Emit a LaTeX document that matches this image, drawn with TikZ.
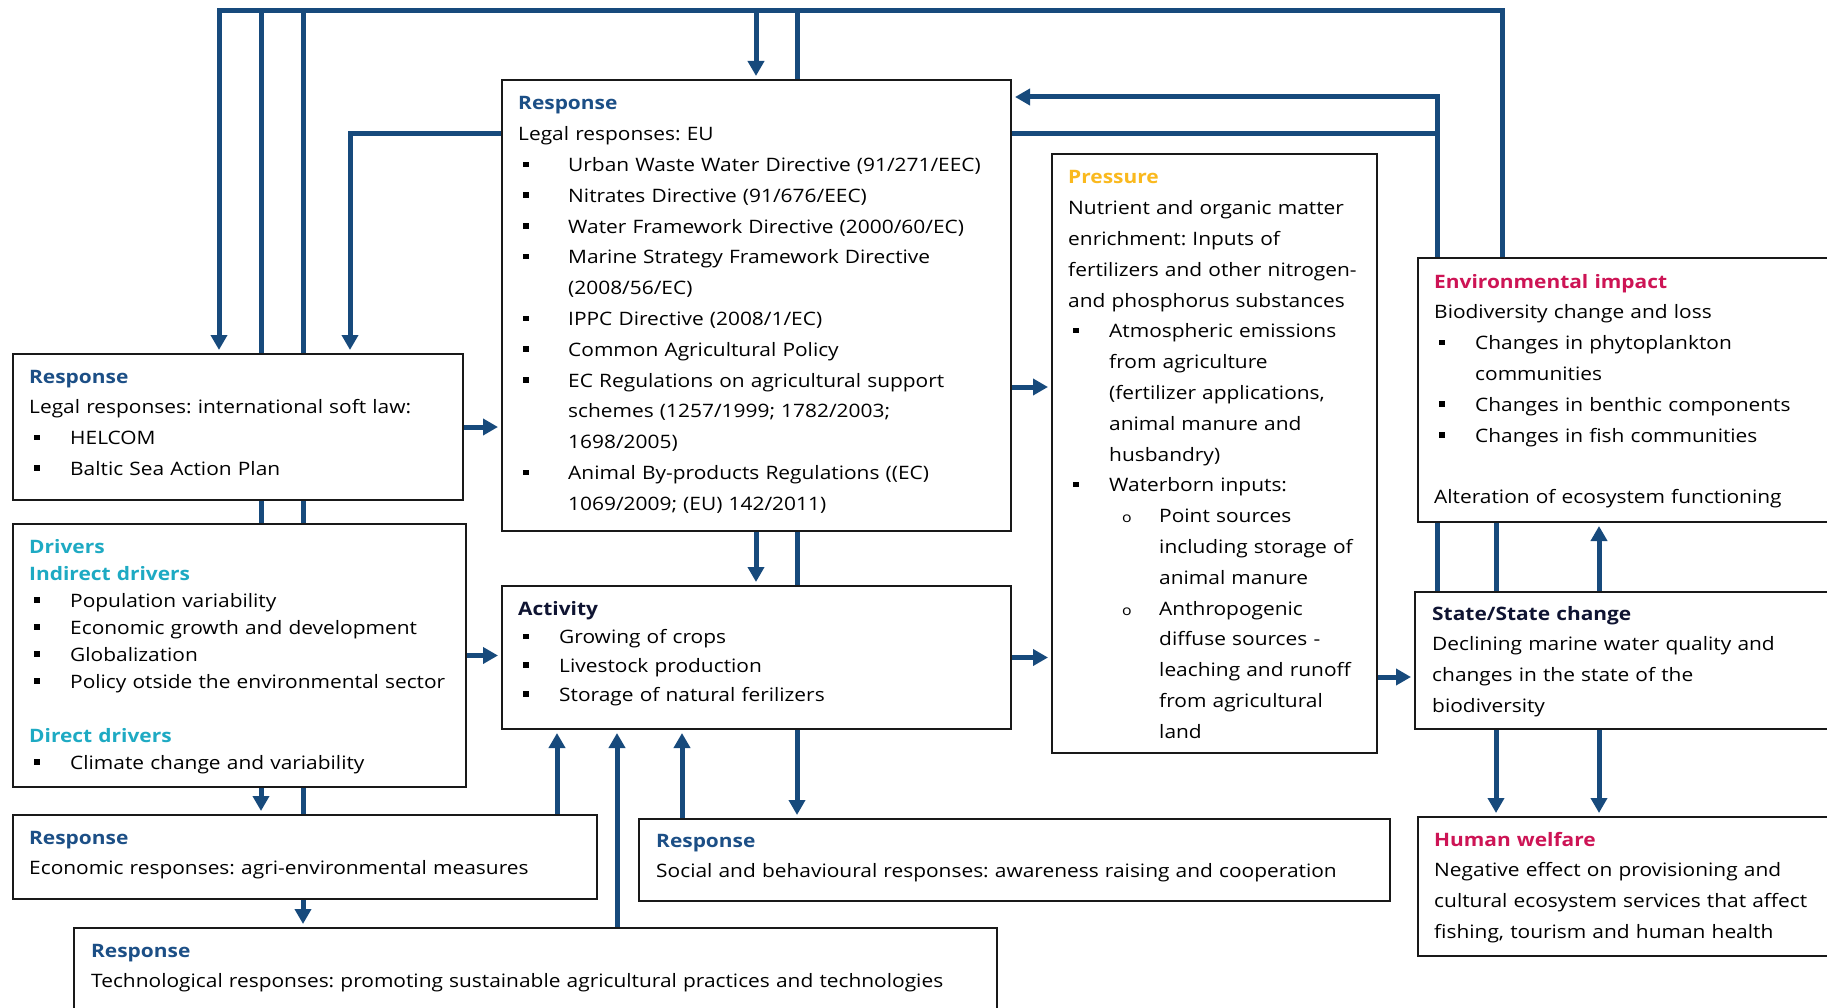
\documentclass[tikz,border=0pt]{standalone}
\usepackage{fontspec}
\setmainfont{Open Sans}[FakeStretch=1.13]
\usetikzlibrary{positioning}
\usetikzlibrary{arrows.meta}

\definecolor{flowblue}{HTML}{174A7C}
\definecolor{respblue}{HTML}{1C4F86}
\definecolor{drivcyan}{HTML}{1EAAC3}
\definecolor{presyellow}{HTML}{FAB91E}
\definecolor{impactred}{HTML}{CD1455}
\definecolor{darknavy}{HTML}{0F1432}

\frenchspacing
\newcommand{\sqbullet}{\raisebox{4.5pt}{\rule{5.5pt}{5.5pt}}}
\newcommand{\itm}[2][36pt]{\hspace*{5pt}\makebox[#1][l]{\sqbullet}#2}
\newcommand{\subitm}[1]{\hspace*{54pt}\makebox[37pt][l]{\fontsize{14}{14}\selectfont o}#1}
\newcommand{\heading}[2]{\textcolor{#1}{\textbf{#2}}}

\tikzset{
        % Boxes
        box_panel/.style={draw=black!90, line width=2pt, fill=white, anchor=north west, inner sep=0pt},
        % Texts in the boxes
        box_text/.style={anchor=base west, align=left, inner sep=0pt, text width=900pt, font=\fontsize{18.5}{30.8}\selectfont},
        % Connectors
        flow_line/.style={draw=flowblue, line width=5pt},
        flow_arrow/.style={flow_line, -{Triangle[length=15pt,width=16pt]}, shorten >=3pt}
}

\begin{document}
\begin{tikzpicture}[x=1pt, y=-1pt]
    \useasboundingbox (0,0) rectangle (1827,1008);

    % boxes
    \node[box_panel, minimum width=509pt, minimum height=451pt] (resp_eu) at (501,79) {};
    \node[box_panel, minimum width=450pt, minimum height=146pt] (resp_soft) at (12,353) {};
    \node[box_panel, minimum width=453pt, minimum height=263pt] (drivers) at (12,523) {};
    \node[box_panel, minimum width=509pt, minimum height=143pt] (activity) at (501,585) {};
    \node[box_panel, minimum width=325pt, minimum height=599pt] (pressure) at (1051,153) {};
    \node[box_panel, minimum width=430pt, minimum height=264pt] (impact) at (1417,257) {};
    \node[box_panel, minimum width=430pt, minimum height=137pt] (state) at (1414,591) {};
    \node[box_panel, minimum width=430pt, minimum height=139pt] (welfare) at (1417,816) {};
    \node[box_panel, minimum width=584pt, minimum height=84pt] (resp_econ) at (12,814) {};
    \node[box_panel, minimum width=751pt, minimum height=82pt] (resp_social) at (638,818) {};
    \node[box_panel, minimum width=923pt, minimum height=100pt] (resp_tech) at (73,927) {};

    % texts
    \node[box_text] (resp_eu_text) at (518,110) {\heading{respblue}{Response}\\
        Legal responses: EU\\
        \itm[45pt]{Urban Waste Water Directive (91/271/EEC)}\\
        \itm[45pt]{Nitrates Directive (91/676/EEC)}\\
        \itm[45pt]{Water Framework Directive (2000/60/EC)}\\
        \itm[45pt]{Marine Strategy Framework Directive}\\
        \hspace*{50pt}(2008/56/EC)\\
        \itm[45pt]{IPPC Directive (2008/1/EC)}\\
        \itm[45pt]{Common Agricultural Policy}\\
        \itm[45pt]{EC Regulations on agricultural support}\\
        \hspace*{50pt}schemes (1257/1999; 1782/2003;\\
        \hspace*{50pt}1698/2005)\\
        \itm[45pt]{Animal By-products Regulations ((EC)}\\
        \hspace*{50pt}1069/2009; (EU) 142/2011)};
    \node[box_text] (resp_soft_text) at (29,383) {\heading{respblue}{Response}\\
        Legal responses: international soft law:\\
        \itm{HELCOM}\\
        \itm{Baltic Sea Action Plan}};
    \node[box_text, font=\fontsize{18.5}{27}\selectfont] (drivers_text) at (29,553) {\heading{drivcyan}{Drivers}\\
        \heading{drivcyan}{Indirect drivers}\\
        \itm{Population variability}\\
        \itm{Economic growth and development}\\
        \itm{Globalization}\\
        \itm{Policy otside the environmental sector}\\[27pt]
        \heading{drivcyan}{Direct drivers}\\
        \itm{Climate change and variability}};
    \node[box_text, font=\fontsize{18.5}{28.7}\selectfont] (activity_text) at (518,615) {\heading{darknavy}{Activity}\\
        \itm{Growing of crops}\\
        \itm{Livestock production}\\
        \itm{Storage of natural ferilizers}};
    \node[box_text] (pressure_text) at (1068,184) {\heading{presyellow}{Pressure}\\
        Nutrient and organic matter\\
        enrichment: Inputs of\\
        fertilizers and other nitrogen-\\
        and phosphorus substances\\
        \itm{Atmospheric emissions}\\
        \hspace*{41pt}from agriculture\\
        \hspace*{41pt}(fertilizer applications,\\
        \hspace*{41pt}animal manure and\\
        \hspace*{41pt}husbandry)\\
        \itm{Waterborn inputs:}\\
        \subitm{Point sources}\\
        \hspace*{91pt}including storage of\\
        \hspace*{91pt}animal manure\\
        \subitm{Anthropogenic}\\
        \hspace*{91pt}diffuse sources -\\
        \hspace*{91pt}leaching and runoff\\
        \hspace*{91pt}from agricultural\\
        \hspace*{91pt}land};
    \node[box_text] (impact_text) at (1434,288) {\heading{impactred}{Environmental impact}\\
        Biodiversity change and loss\\
        \itm{Changes in phytoplankton}\\
        \hspace*{41pt}communities\\
        \itm{Changes in benthic components}\\
        \itm{Changes in fish communities}\\[30.8pt]
        Alteration of ecosystem functioning};
    \node[box_text] (state_text) at (1432,620) {\heading{darknavy}{State/State change}\\
        Declining marine water quality and\\
        changes in the state of the\\
        biodiversity};
    \node[box_text] (welfare_text) at (1434,846) {\heading{impactred}{Human welfare}\\
        Negative effect on provisioning and\\
        cultural ecosystem services that affect\\
        fishing, tourism and human health};
    \node[box_text] (resp_econ_text) at (29,844) {\heading{respblue}{Response}\\
        Economic responses: agri-environmental measures};
    \node[box_text] (resp_social_text) at (656,847) {\heading{respblue}{Response}\\
        Social and behavioural responses: awareness raising and cooperation};
    \node[box_text] (resp_tech_text) at (91,957) {\heading{respblue}{Response}\\
        Technological responses: promoting sustainable agricultural practices and technologies};

    % connector columns and levels
    \coordinate (top_left) at (219,11);
    \coordinate (top_right) at (1502,11);
    \coordinate (col_a) at (261,11);
    \coordinate (col_b) at (303,11);
    \coordinate (col_c) at (756,11);
    \coordinate (col_d) at (797,11);
    \coordinate (law_turn) at (350,134);
    \coordinate (fb_in) at (1437,97);
    \coordinate (fb_out) at (1437,134);
    \coordinate (lvl_press) at (1030,387);
    \coordinate (lvl_state) at (1395,677);
    \coordinate (col_f) at (1496,560);
    \coordinate (col_g) at (1599,560);
    \coordinate (col_h) at (557,780);
    \coordinate (col_i) at (617,780);
    \coordinate (col_j) at (682,780);

    % feedback loops
    \draw[flow_arrow] (impact.north -| top_right) -- (top_right) -- (top_left) -- (top_left |- resp_soft.north);
    \draw[flow_line] (col_a) -- (col_a |- resp_soft.north);
    \draw[flow_line] (col_b) -- (col_b |- resp_soft.north);
    \draw[flow_line] (resp_soft.south -| col_a) -- (drivers.north -| col_a);
    \draw[flow_line] (resp_soft.south -| col_b) -- (drivers.north -| col_b);
    \draw[flow_arrow] (drivers.south -| col_a) -- (resp_econ.north -| col_a);
    \draw[flow_line] (drivers.south -| col_b) -- (resp_econ.north -| col_b);
    \draw[flow_arrow] (resp_econ.south -| col_b) -- (resp_tech.north -| col_b);
    \draw[flow_arrow] (col_c) -- (resp_eu.north -| col_c);
    \draw[flow_line] (col_d) -- (resp_eu.north -| col_d);
    \draw[flow_arrow] (resp_eu.west |- law_turn) -- (law_turn) -- (law_turn |- resp_soft.north);
    \draw[flow_line] (resp_eu.east |- fb_out) -- (fb_out);
    \draw[flow_arrow] (impact.north -| fb_in) -- (fb_in) -- (resp_eu.east |- fb_in);

    % main chain
    \draw[flow_arrow] (resp_soft.east) -- (resp_eu.west |- resp_soft.east);
    \draw[flow_arrow] (resp_eu.east |- lvl_press) -- (pressure.west |- lvl_press);
    \draw[flow_arrow] (resp_eu.south -| col_c) -- (activity.north -| col_c);
    \draw[flow_line] (resp_eu.south -| col_d) -- (activity.north -| col_d);
    \draw[flow_arrow] (drivers.east) -- (activity.west |- drivers.east);
    \draw[flow_arrow] (activity.east) -- (pressure.west |- activity.east);
    \draw[flow_arrow] (pressure.east |- lvl_state) -- (state.west |- lvl_state);
    \draw[flow_line] (impact.south -| fb_in) -- (state.north -| fb_in);
    \draw[flow_line] (impact.south -| col_f) -- (state.north -| col_f);
    \draw[flow_arrow] (state.north -| col_g) -- (impact.south -| col_g);
    \draw[flow_arrow] (state.south -| col_f) -- (welfare.north -| col_f);
    \draw[flow_arrow] (state.south -| col_g) -- (welfare.north -| col_g);

    % responses acting on the activity
    \draw[flow_arrow] (activity.south -| col_d) -- (resp_social.north -| col_d);
    \draw[flow_arrow] (resp_econ.north -| col_h) -- (activity.south -| col_h);
    \draw[flow_arrow] (resp_tech.north -| col_i) -- (activity.south -| col_i);
    \draw[flow_arrow] (resp_social.north -| col_j) -- (activity.south -| col_j);
\end{tikzpicture}
\end{document}
